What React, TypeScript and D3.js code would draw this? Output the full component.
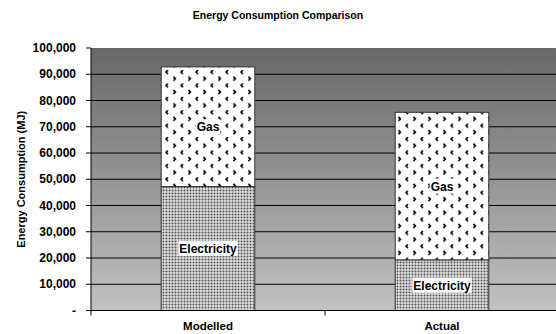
import React from "react";
import * as d3 from "d3";

const categories = ["Modelled", "Actual"];
const electricity = [47200, 19300];
const gas = [45600, 56200];
const yTicks = [0, 10000, 20000, 30000, 40000, 50000, 60000, 70000, 80000, 90000, 100000];
const title = "Energy Consumption Comparison";
const yTitle = "Energy Consumption (MJ)";

const W = 556;
const H = 334;
const FONT = "'Liberation Sans', Arial, sans-serif";

function measure(text: string, size: number) {
  if (typeof document === "undefined") return text.length * size * 0.6;
  const c = document.createElement("canvas").getContext("2d");
  if (!c) return text.length * size * 0.6;
  c.font = `bold ${size}px ${FONT}`;
  return c.measureText(text).width;
}

export default function App() {
  const left = 91;
  const right = 559;
  const top = 48;
  const bottom = 310.5;

  const x = d3.scaleBand<string>().domain(categories).range([left, right]).paddingInner(0.6).paddingOuter(0.3);
  const y = d3.scaleLinear().domain([0, 100000]).range([bottom, top]);
  const fmt = (v: number) => (v === 0 ? "-" : d3.format(",")(v));

  const stacked = categories.map((c, i) => ({
    cat: c,
    segs: [
      { name: "Electricity", y0: 0, y1: electricity[i], fill: "url(#dots)" },
      { name: "Gas", y0: electricity[i], y1: electricity[i] + gas[i], fill: "url(#divot)" },
    ],
  }));

  const step = x.step();

  return (
    <svg width={W} height={H} style={{ position: "fixed", left: 0, top: 0, background: "#fff" }} fontFamily={FONT}>
      <defs>
        <linearGradient id="bg" x1="0" y1="0" x2="0" y2="1">
          <stop offset="0" stopColor="#686868" />
          <stop offset="1" stopColor="#c2c2c2" />
        </linearGradient>
        <pattern id="dots" patternUnits="userSpaceOnUse" width="3" height="3">
          <rect width="3" height="3" fill="#fff" />
          <rect x="0.5" y="0.5" width="2" height="2" fill="#505050" />
        </pattern>
        <pattern id="divot" patternUnits="userSpaceOnUse" width="15" height="13.4" x="165" y="70">
          <rect width="15" height="13.4" fill="#fff" />
          <path d="M3,0 L1,2 L3,4" fill="none" stroke="#111" strokeWidth="1.7" />
          <path d="M8.4,6.7 L10.4,8.7 L8.4,10.7" fill="none" stroke="#111" strokeWidth="1.7" />
        </pattern>
      </defs>

      <text x={278} y={19} textAnchor="middle" fontSize={10.5} fontWeight="bold" fill="#000">
        {title}
      </text>

      <rect x={left} y={top} width={right - left} height={bottom - top} fill="url(#bg)" />

      {yTicks.filter((t) => t > 0 && t < 100000).map((t) => (
        <line key={t} x1={left} x2={right} y1={y(t)} y2={y(t)} stroke="#000" strokeWidth={1} />
      ))}

      {stacked.map((s) => (
        <g key={s.cat}>
          {s.segs.map((seg) => (
            <rect
              key={seg.name}
              x={x(s.cat)}
              y={y(seg.y1)}
              width={x.bandwidth()}
              height={y(seg.y0) - y(seg.y1)}
              fill={seg.fill}
              stroke="#333"
              strokeWidth={1}
            />
          ))}
          {s.segs.map((seg) => {
            const cx = (x(s.cat) as number) + x.bandwidth() / 2;
            const cy = (y(seg.y0) + y(seg.y1)) / 2;
            const w = measure(seg.name, 12);
            return (
              <g key={seg.name + "l"}>
                <rect x={cx - w / 2 - 1} y={cy - 7.5} width={w + 2} height={15} fill="#fff" />
                <text x={cx} y={cy + 4.5} textAnchor="middle" fontSize={12} fontWeight="bold" fill="#000">
                  {seg.name}
                </text>
              </g>
            );
          })}
        </g>
      ))}

      {/* y axis */}
      <line x1={left} x2={left} y1={top} y2={bottom} stroke="#000" strokeWidth={1} />
      {yTicks.map((t) => (
        <g key={"yt" + t}>
          <line x1={left - 5} x2={left} y1={y(t)} y2={y(t)} stroke="#000" />
          <text x={76} y={y(t) + 4} textAnchor="end" fontSize={12} fontWeight="bold" fill="#000">
            {fmt(t)}
          </text>
        </g>
      ))}

      {/* x axis */}
      <line x1={left} x2={right} y1={bottom} y2={bottom} stroke="#000" strokeWidth={1} />
      {[0, 1, 2].map((i) => (
        <line key={"xt" + i} x1={left + i * step} x2={left + i * step} y1={bottom} y2={bottom + 5} stroke="#000" />
      ))}
      {categories.map((c) => (
        <text
          key={c}
          x={(x(c) as number) + x.bandwidth() / 2}
          y={330}
          textAnchor="middle"
          fontSize={11.5}
          fontWeight="bold"
          fill="#000"
        >
          {c}
        </text>
      ))}

      <text
        transform={`translate(25,${(top + bottom) / 2}) rotate(-90)`}
        textAnchor="middle"
        fontSize={11}
        fontWeight="bold"
        fill="#000"
      >
        {yTitle}
      </text>
    </svg>
  );
}
